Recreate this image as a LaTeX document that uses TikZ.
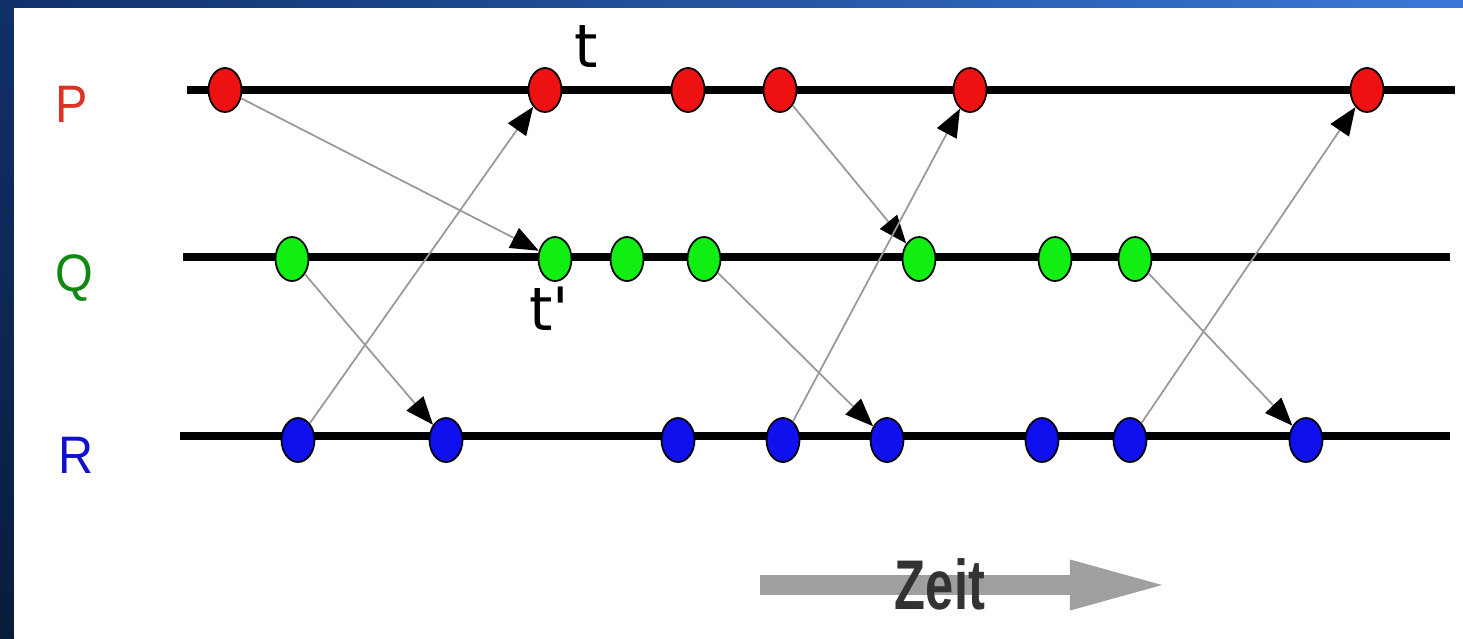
\documentclass[tikz,border=0pt]{standalone}
\usepackage{fontspec}
\setmainfont{Liberation Sans}
\newfontfamily\tfont{DejaVu Sans}
\usetikzlibrary{arrows.meta,shapes.geometric}

\definecolor{slidetop}{HTML}{10306A}
\definecolor{slidelight}{HTML}{3A78D8}
\definecolor{slidedark}{HTML}{0A1C3C}
\definecolor{pred}{HTML}{EE1111}
\definecolor{qgreen}{HTML}{11EE11}
\definecolor{rblue}{HTML}{1010EE}
\definecolor{plabel}{HTML}{DD3322}
\definecolor{qlabel}{HTML}{118811}
\definecolor{rlabel}{HTML}{1111CC}

\begin{document}
\begin{tikzpicture}[x=0.01cm, y=-0.01cm, line cap=butt, line join=round,
    proc/.style={line width=0.08cm, black},
    dot/.style={ellipse, draw=black, line width=0.5pt, inner sep=0pt,
      minimum width=0.33cm, minimum height=0.44cm},
    pdot/.style={dot, fill=pred},
    qdot/.style={dot, fill=qgreen},
    rdot/.style={dot, fill=rblue},
    msg/.style={gray!80, line width=0.5pt, -{Triangle[length=0.28cm, width=0.22cm, black]}},
    plbl/.style={font=\fontsize{15}{18}\selectfont, xscale=0.92}]
  \useasboundingbox (0,0) rectangle (1463,638);
  % slide background
  \fill[left color=slidetop, right color=slidelight] (0,0) rectangle (1463,8);
  \fill[top color=slidetop, bottom color=slidedark] (0,8) rectangle (14,638);
  \fill[white] (14,8) rectangle (1463,638);

  % process lines
  \coordinate (Pa) at (187,90);  \coordinate (Pb) at (1455,90);
  \coordinate (Qa) at (183,257); \coordinate (Qb) at (1450,257);
  \coordinate (Ra) at (180,436); \coordinate (Rb) at (1450,436);
  \draw[proc] (Pa) -- (Pb);
  \draw[proc] (Qa) -- (Qb);
  \draw[proc] (Ra) -- (Rb);

  \node[plbl, text=plabel] (P) at (72,104) {P};
  \node[plbl, text=qlabel] (Q) at (74,278) {Q};
  \node[plbl, text=rlabel] (R) at (76,455) {R};

  % events
  \foreach \x [count=\i] in {225,545,688,780,970,1367}
    \node[pdot] (p\i) at (\x,90) {};
  \foreach \x [count=\i] in {292,555,627,704,919,1055,1135}
    \node[qdot] (q\i) at (\x,259) {};
  \foreach \x [count=\i] in {298,446,678,783,887,1042,1130,1306}
    \node[rdot] (r\i) at (\x,440) {};

  % messages
  \draw[msg] (p1) -- (q2);
  \draw[msg] (r1) -- (p2);
  \draw[msg] (q1) -- (r2);
  \draw[msg] (p4) -- (q5);
  \draw[msg] (r4) -- (p5);
  \draw[msg] (q4) -- (r5);
  \draw[msg] (r7) -- (p6);
  \draw[msg] (q7) -- (r8);

  \node[font=\tfont\fontsize{17}{20}\selectfont] (t) at (586,46) {t};
  \node[font=\tfont\fontsize{17}{20}\selectfont] (t2) at (549,309) {t'};

  % time axis
  \coordinate (Za) at (760,585);
  \coordinate (Zb) at (1172,585);
  \draw[line width=0.2cm, gray!75, -{Triangle[length=1.02cm, width=0.44cm]}] (Za) -- (Zb);
  \node[font=\bfseries\fontsize{20}{22}\selectfont, text=black!80, xscale=0.72] (zeit) at (940,584) {Zeit};
\end{tikzpicture}
\end{document}
